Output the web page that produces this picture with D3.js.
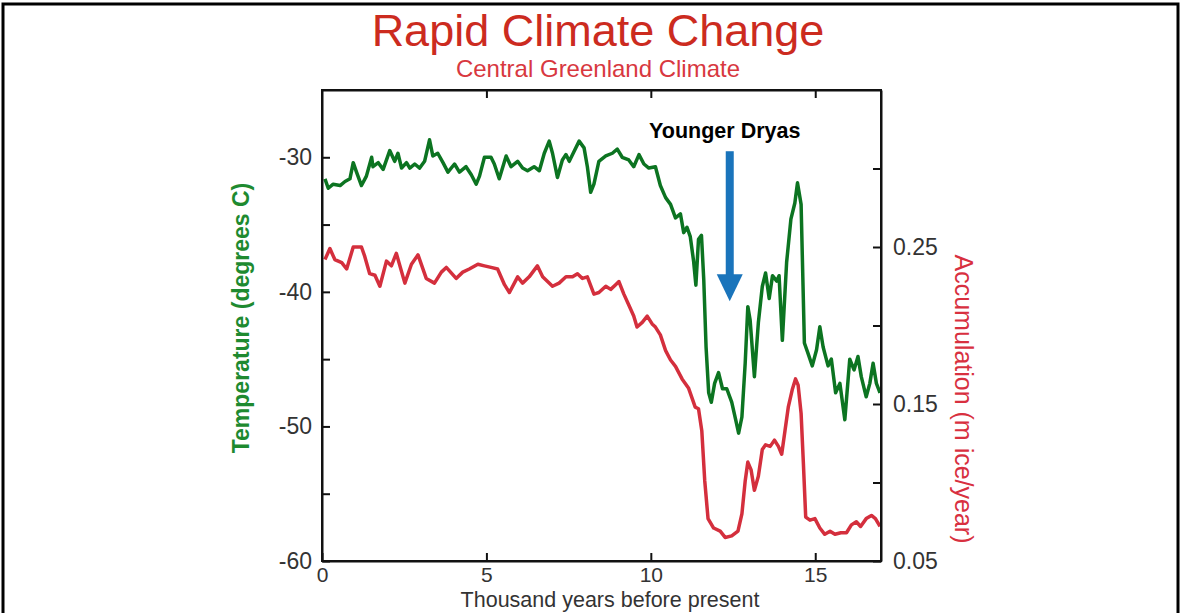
<!DOCTYPE html>
<html>
<head>
<meta charset="utf-8">
<script src="https://cdn.jsdelivr.net/npm/d3@7"></script>
<style>
  body { margin: 0; background: #fff; }
  svg { display: block; font-family: "Liberation Sans", Arial, sans-serif; }
</style>
</head>
<body>
<script>
// temperature series (thousand years before present, degrees C)
var tempYears = [0.09, 0.19, 0.34, 0.55, 0.70, 0.85, 0.95, 1.05, 1.20, 1.35, 1.51, 1.55, 1.71, 1.86, 2.06, 2.21, 2.31, 2.42, 2.57, 2.67, 2.82, 2.97, 3.12, 3.27, 3.37, 3.52, 3.68, 3.83, 4.03, 4.18, 4.38, 4.54, 4.69, 4.79, 4.94, 5.14, 5.24, 5.39, 5.60, 5.75, 5.95, 6.10, 6.25, 6.45, 6.61, 6.76, 6.91, 7.01, 7.16, 7.31, 7.42, 7.52, 7.62, 7.82, 7.97, 8.07, 8.17, 8.27, 8.42, 8.63, 8.83, 8.98, 9.13, 9.33, 9.48, 9.64, 9.79, 9.94, 10.14, 10.29, 10.45, 10.60, 10.75, 10.90, 11.00, 11.10, 11.20, 11.30, 11.37, 11.45, 11.54, 11.61, 11.68, 11.76, 11.84, 11.94, 12.06, 12.18, 12.31, 12.46, 12.58, 12.67, 12.77, 12.87, 12.95, 13.02, 13.15, 13.27, 13.39, 13.49, 13.60, 13.70, 13.83, 13.90, 14.00, 14.13, 14.26, 14.38, 14.46, 14.57, 14.67, 14.77, 14.91, 15.04, 15.14, 15.24, 15.39, 15.49, 15.62, 15.75, 15.90, 16.05, 16.18, 16.30, 16.40, 16.55, 16.66, 16.76, 16.86, 16.97];
var tempValues = [-31.6, -32.3, -32.0, -32.1, -31.8, -31.6, -30.4, -31.1, -32.1, -31.4, -30.0, -30.7, -30.4, -30.9, -29.5, -30.3, -29.7, -30.8, -30.4, -30.8, -30.5, -30.8, -30.3, -28.7, -29.9, -29.7, -30.4, -31.1, -30.5, -31.1, -30.7, -31.3, -32.0, -31.4, -30.0, -30.0, -30.5, -31.6, -29.9, -30.7, -30.3, -30.8, -31.0, -30.7, -31.0, -29.7, -28.8, -29.7, -31.5, -30.2, -29.8, -30.3, -29.8, -28.8, -29.3, -30.7, -32.6, -32.0, -30.3, -29.9, -29.7, -29.4, -30.0, -30.2, -30.7, -29.8, -30.5, -30.8, -30.7, -32.1, -33.0, -33.5, -34.5, -34.2, -35.6, -35.2, -35.9, -37.7, -39.5, -36.1, -35.8, -39.1, -44.1, -47.5, -48.2, -46.8, -46.0, -47.2, -47.2, -48.2, -49.5, -50.5, -49.3, -45.3, -41.1, -42.1, -46.3, -42.3, -39.6, -38.6, -40.5, -38.8, -39.2, -38.8, -43.6, -37.8, -34.6, -33.4, -31.9, -33.5, -43.8, -44.5, -45.5, -44.3, -42.6, -44.1, -45.5, -45.0, -47.5, -46.8, -49.5, -45.0, -45.8, -44.8, -46.3, -47.8, -46.8, -45.3, -46.8, -47.5];

// accumulation series (thousand years before present, m ice/year)
var accYears = [0.09, 0.24, 0.39, 0.60, 0.75, 0.95, 1.20, 1.30, 1.45, 1.61, 1.76, 1.96, 2.11, 2.26, 2.52, 2.72, 2.92, 3.17, 3.42, 3.63, 3.78, 4.08, 4.28, 4.48, 4.74, 4.94, 5.14, 5.34, 5.55, 5.70, 5.95, 6.10, 6.30, 6.55, 6.71, 6.86, 7.01, 7.21, 7.42, 7.62, 7.77, 7.92, 8.07, 8.27, 8.42, 8.63, 8.78, 8.93, 9.03, 9.18, 9.33, 9.48, 9.58, 9.74, 9.89, 10.04, 10.14, 10.29, 10.45, 10.60, 10.75, 10.95, 11.15, 11.35, 11.45, 11.55, 11.64, 11.74, 11.91, 12.11, 12.26, 12.46, 12.65, 12.77, 12.87, 12.95, 13.05, 13.15, 13.27, 13.39, 13.49, 13.63, 13.76, 13.88, 13.98, 14.08, 14.18, 14.30, 14.40, 14.48, 14.57, 14.64, 14.71, 14.84, 14.99, 15.14, 15.29, 15.45, 15.60, 15.78, 15.95, 16.10, 16.25, 16.38, 16.55, 16.71, 16.83, 16.97];
var accValues = [0.242, 0.249, 0.242, 0.240, 0.236, 0.250, 0.250, 0.244, 0.233, 0.232, 0.225, 0.241, 0.238, 0.246, 0.227, 0.239, 0.245, 0.230, 0.227, 0.234, 0.237, 0.230, 0.234, 0.236, 0.239, 0.238, 0.237, 0.236, 0.226, 0.221, 0.231, 0.227, 0.231, 0.238, 0.231, 0.228, 0.225, 0.227, 0.231, 0.231, 0.233, 0.230, 0.231, 0.220, 0.221, 0.225, 0.223, 0.226, 0.228, 0.220, 0.213, 0.206, 0.199, 0.202, 0.206, 0.201, 0.199, 0.194, 0.184, 0.178, 0.174, 0.166, 0.160, 0.148, 0.147, 0.133, 0.101, 0.077, 0.071, 0.069, 0.065, 0.066, 0.069, 0.080, 0.101, 0.113, 0.108, 0.095, 0.104, 0.121, 0.124, 0.123, 0.127, 0.123, 0.118, 0.133, 0.148, 0.159, 0.166, 0.162, 0.144, 0.112, 0.078, 0.076, 0.077, 0.071, 0.067, 0.069, 0.067, 0.068, 0.068, 0.073, 0.075, 0.072, 0.077, 0.079, 0.077, 0.072];

// axis ticks and labels
var xTicks = [0, 5, 10, 15];
var tempTicks = [-60, -55, -50, -45, -40, -35, -30];
var tempLabels = [-60, -50, -40, -30];
var accTicks = [0.05, 0.1, 0.15, 0.2, 0.25, 0.3];
var accLabels = [0.05, 0.15, 0.25];

// younger dryas arrow: x position, top, head base, tip (degrees C)
var arrowYear = 12.4;
var arrowTemps = [-29.55, -38.7, -40.7];

var w = 1180;
var h = 613;
var margin = {left: 322, right: 299, top: 90, bottom: 52};

var svg = d3.select("body")
  .append("svg")
  .attr("width", w)
  .attr("height", h);

// outer frame
svg.append("rect")
  .attr("x", 3)
  .attr("y", 4)
  .attr("width", w - 5)
  .attr("height", h + 10)
  .attr("fill", "none")
  .attr("stroke", "#000")
  .attr("stroke-width", 3);

var xScale = d3.scaleLinear()
  .domain([0, 17])
  .range([margin.left, w - margin.right]);

var tScale = d3.scaleLinear()
  .domain([-60, -25])
  .range([h - margin.bottom, margin.top]);

var aScale = d3.scaleLinear()
  .domain([0.05, 0.35])
  .range([h - margin.bottom, margin.top]);

// titles
svg.append("text")
  .attr("x", 598)
  .attr("y", 46)
  .attr("text-anchor", "middle")
  .attr("fill", "#cc2b1f")
  .style("font-size", "45px")
  .text("Rapid Climate Change");

svg.append("text")
  .attr("x", 598)
  .attr("y", 77)
  .attr("text-anchor", "middle")
  .attr("fill", "#d8383f")
  .style("font-size", "24px")
  .text("Central Greenland Climate");

// lines
var tempLine = d3.line()
  .x(function(d, i) { return xScale(tempYears[i]); })
  .y(function(d) { return tScale(d); });

var accLine = d3.line()
  .x(function(d, i) { return xScale(accYears[i]); })
  .y(function(d) { return aScale(d); });

svg.append("path")
  .attr("d", accLine(accValues))
  .attr("fill", "none")
  .attr("stroke", "#d42f3d")
  .attr("stroke-width", 3.5)
  .attr("stroke-linejoin", "round");

svg.append("path")
  .attr("d", tempLine(tempValues))
  .attr("fill", "none")
  .attr("stroke", "#0c7421")
  .attr("stroke-width", 3.5)
  .attr("stroke-linejoin", "round");

// axes, ticks on the inside
var tickLen = 8;

var xAxis = d3.axisBottom(xScale).tickValues(xTicks).tickSizeInner(-tickLen).tickSizeOuter(0).tickPadding(6);
var xTop = d3.axisTop(xScale).tickValues(xTicks.slice(1)).tickSizeInner(-tickLen).tickSizeOuter(0).tickFormat("");
var tAxis = d3.axisLeft(tScale).tickValues(tempTicks).tickSizeInner(-tickLen).tickSizeOuter(0).tickPadding(10)
  .tickFormat(function(d) { return tempLabels.indexOf(d) >= 0 ? d : ""; });
var aAxis = d3.axisRight(aScale).tickValues(accTicks).tickSizeInner(-tickLen).tickSizeOuter(0).tickPadding(12)
  .tickFormat(function(d) { return accLabels.indexOf(d) >= 0 ? d3.format(".2f")(d) : ""; });

var gx = svg.append("g")
  .attr("class", "axis")
  .attr("transform", "translate(0," + (h - margin.bottom) + ")")
  .call(xAxis);

svg.append("g")
  .attr("class", "axis")
  .attr("transform", "translate(0," + margin.top + ")")
  .call(xTop);

svg.append("g")
  .attr("class", "axis")
  .attr("transform", "translate(" + margin.left + ",0)")
  .call(tAxis);

svg.append("g")
  .attr("class", "axis")
  .attr("transform", "translate(" + (w - margin.right) + ",0)")
  .call(aAxis);

svg.selectAll(".axis path, .axis line")
  .attr("stroke", "#111")
  .attr("stroke-width", 2);

svg.selectAll(".axis text")
  .attr("fill", "#333")
  .style("font-size", "23px")
  .style("font-family", "Liberation Sans, Arial, sans-serif");

gx.selectAll("text").style("font-size", "21px");

// plot box
svg.append("rect")
  .attr("x", margin.left)
  .attr("y", margin.top)
  .attr("width", w - margin.left - margin.right)
  .attr("height", h - margin.top - margin.bottom)
  .attr("fill", "none")
  .attr("stroke", "#111")
  .attr("stroke-width", 2);

// axis titles
svg.append("text")
  .attr("transform", "translate(249,318) rotate(-90)")
  .attr("text-anchor", "middle")
  .attr("fill", "#1e8a30")
  .style("font-size", "23px")
  .style("font-weight", "bold")
  .text("Temperature (degrees C)");

svg.append("text")
  .attr("transform", "translate(955,399) rotate(90)")
  .attr("text-anchor", "middle")
  .attr("fill", "#d8303f")
  .style("font-size", "25px")
  .text("Accumulation (m ice/year)");

svg.append("text")
  .attr("x", 610)
  .attr("y", 607)
  .attr("text-anchor", "middle")
  .attr("fill", "#333")
  .style("font-size", "21.5px")
  .text("Thousand years before present");

// younger dryas annotation
svg.append("text")
  .attr("x", xScale(arrowYear) - 5)
  .attr("y", 138)
  .attr("text-anchor", "middle")
  .attr("fill", "#000")
  .style("font-size", "21.5px")
  .style("font-weight", "bold")
  .text("Younger Dryas");

var ax = xScale(arrowYear);
svg.append("rect")
  .attr("x", ax - 4)
  .attr("y", tScale(arrowTemps[0]))
  .attr("width", 8)
  .attr("height", tScale(arrowTemps[1]) - tScale(arrowTemps[0]) + 1)
  .attr("fill", "#1a74bb");

svg.append("path")
  .attr("d", "M" + (ax - 13) + "," + tScale(arrowTemps[1]) +
    "L" + (ax + 13) + "," + tScale(arrowTemps[1]) +
    "L" + ax + "," + tScale(arrowTemps[2]) + "Z")
  .attr("fill", "#1a74bb");
</script>
</body>
</html>
